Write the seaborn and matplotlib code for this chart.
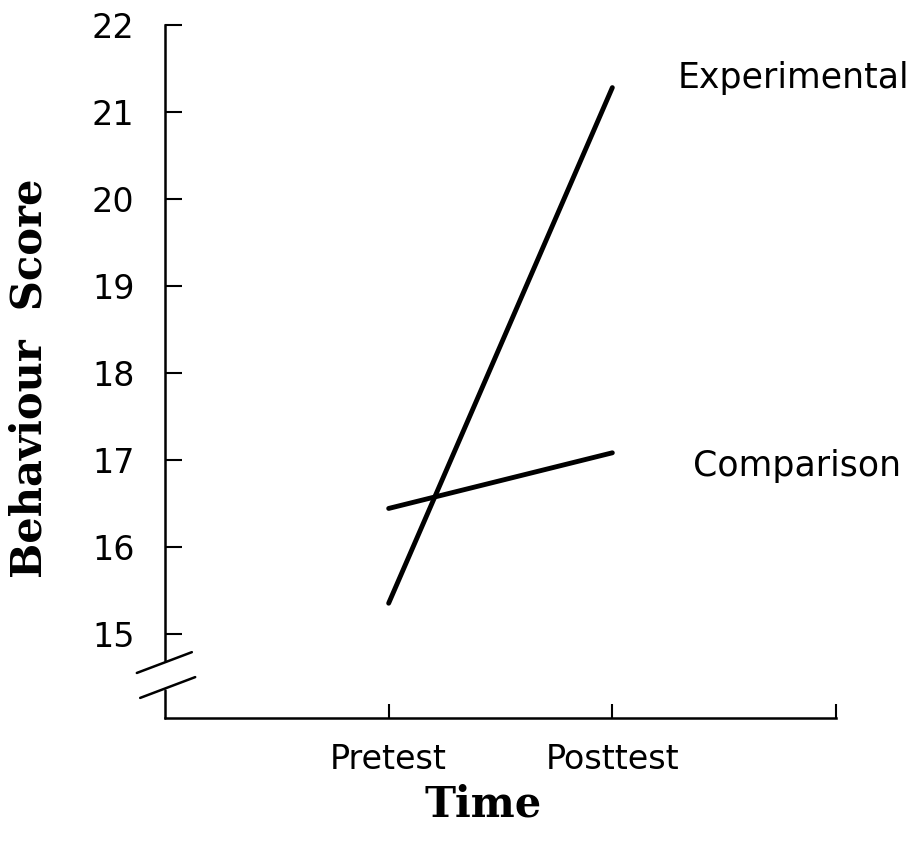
import pandas as pd
import seaborn as sns
import matplotlib
matplotlib.use("Agg")
import matplotlib.pyplot as plt

# veri: okunan degerler
times = ["Pretest", "Posttest"]
time_pos = [1, 2]
experimental = [15.35, 21.28]
comparison = [16.44, 17.08]
groups = ["Experimental", "Comparison"]

df = pd.DataFrame({
    "time": time_pos * 2,
    "score": experimental + comparison,
    "group": [groups[0]] * 2 + [groups[1]] * 2,
})

sns.set_style("ticks")
plt.rcParams['font.family'] = ['DejaVu Sans']
plt.rcParams.update({"text.color": "black", "axes.labelcolor": "black",
                     "xtick.color": "black", "ytick.color": "black",
                     "axes.edgecolor": "black"})

fig = plt.figure(figsize=(9.14, 8.43), dpi=100)
ax = fig.add_axes([165 / 914, 125 / 843, 671 / 914, 693 / 843])

sns.lineplot(data=df, x="time", y="score", hue="group",
             palette=["black", "black"], linewidth=3.5, legend=False, ax=ax)

ax.set_xlim(0, 3)
ax.set_ylim(14.03, 22)
ax.set_xticks([1, 2, 3])
ax.set_xticklabels(times + [""])
ax.set_yticks(range(15, 23))

ax.tick_params(axis="y", direction="in", length=12, width=1.5, pad=22, labelsize=24)
ax.tick_params(axis="x", direction="in", length=10, width=1.5, pad=18, labelsize=24)

for s in ["top", "right"]:
    ax.spines[s].set_visible(False)
ax.spines["bottom"].set_linewidth(1.8)
ax.spines["left"].set_linewidth(1.8)
ax.spines["left"].set_bounds(14.7, 22)

# kirik eksen isaretleri
ax.plot([0, 0], [0, 0.04], transform=ax.transAxes, color="black", lw=1.8, clip_on=False)
ax.plot([-0.042, 0.040], [0.065, 0.095], transform=ax.transAxes, color="black", lw=1.8, clip_on=False)
ax.plot([-0.037, 0.045], [0.029, 0.059], transform=ax.transAxes, color="black", lw=1.8, clip_on=False)

# grup etiketleri
ax.text(2.29, 21.39, groups[0], ha="left", va="center", fontsize=25, clip_on=False)
ax.text(2.36, 16.93, groups[1], ha="left", va="center", fontsize=25, clip_on=False)

ax.set_xlabel("Time", family="DejaVu Serif", fontweight="bold", fontsize=30)
ax.set_ylabel("Behaviour  Score", family="DejaVu Serif", fontweight="bold", fontsize=30)
ax.xaxis.set_label_coords(0.474, -0.094)
ax.yaxis.set_label_coords(-0.17, 0.49)

fig.savefig("out.png", dpi=100)
